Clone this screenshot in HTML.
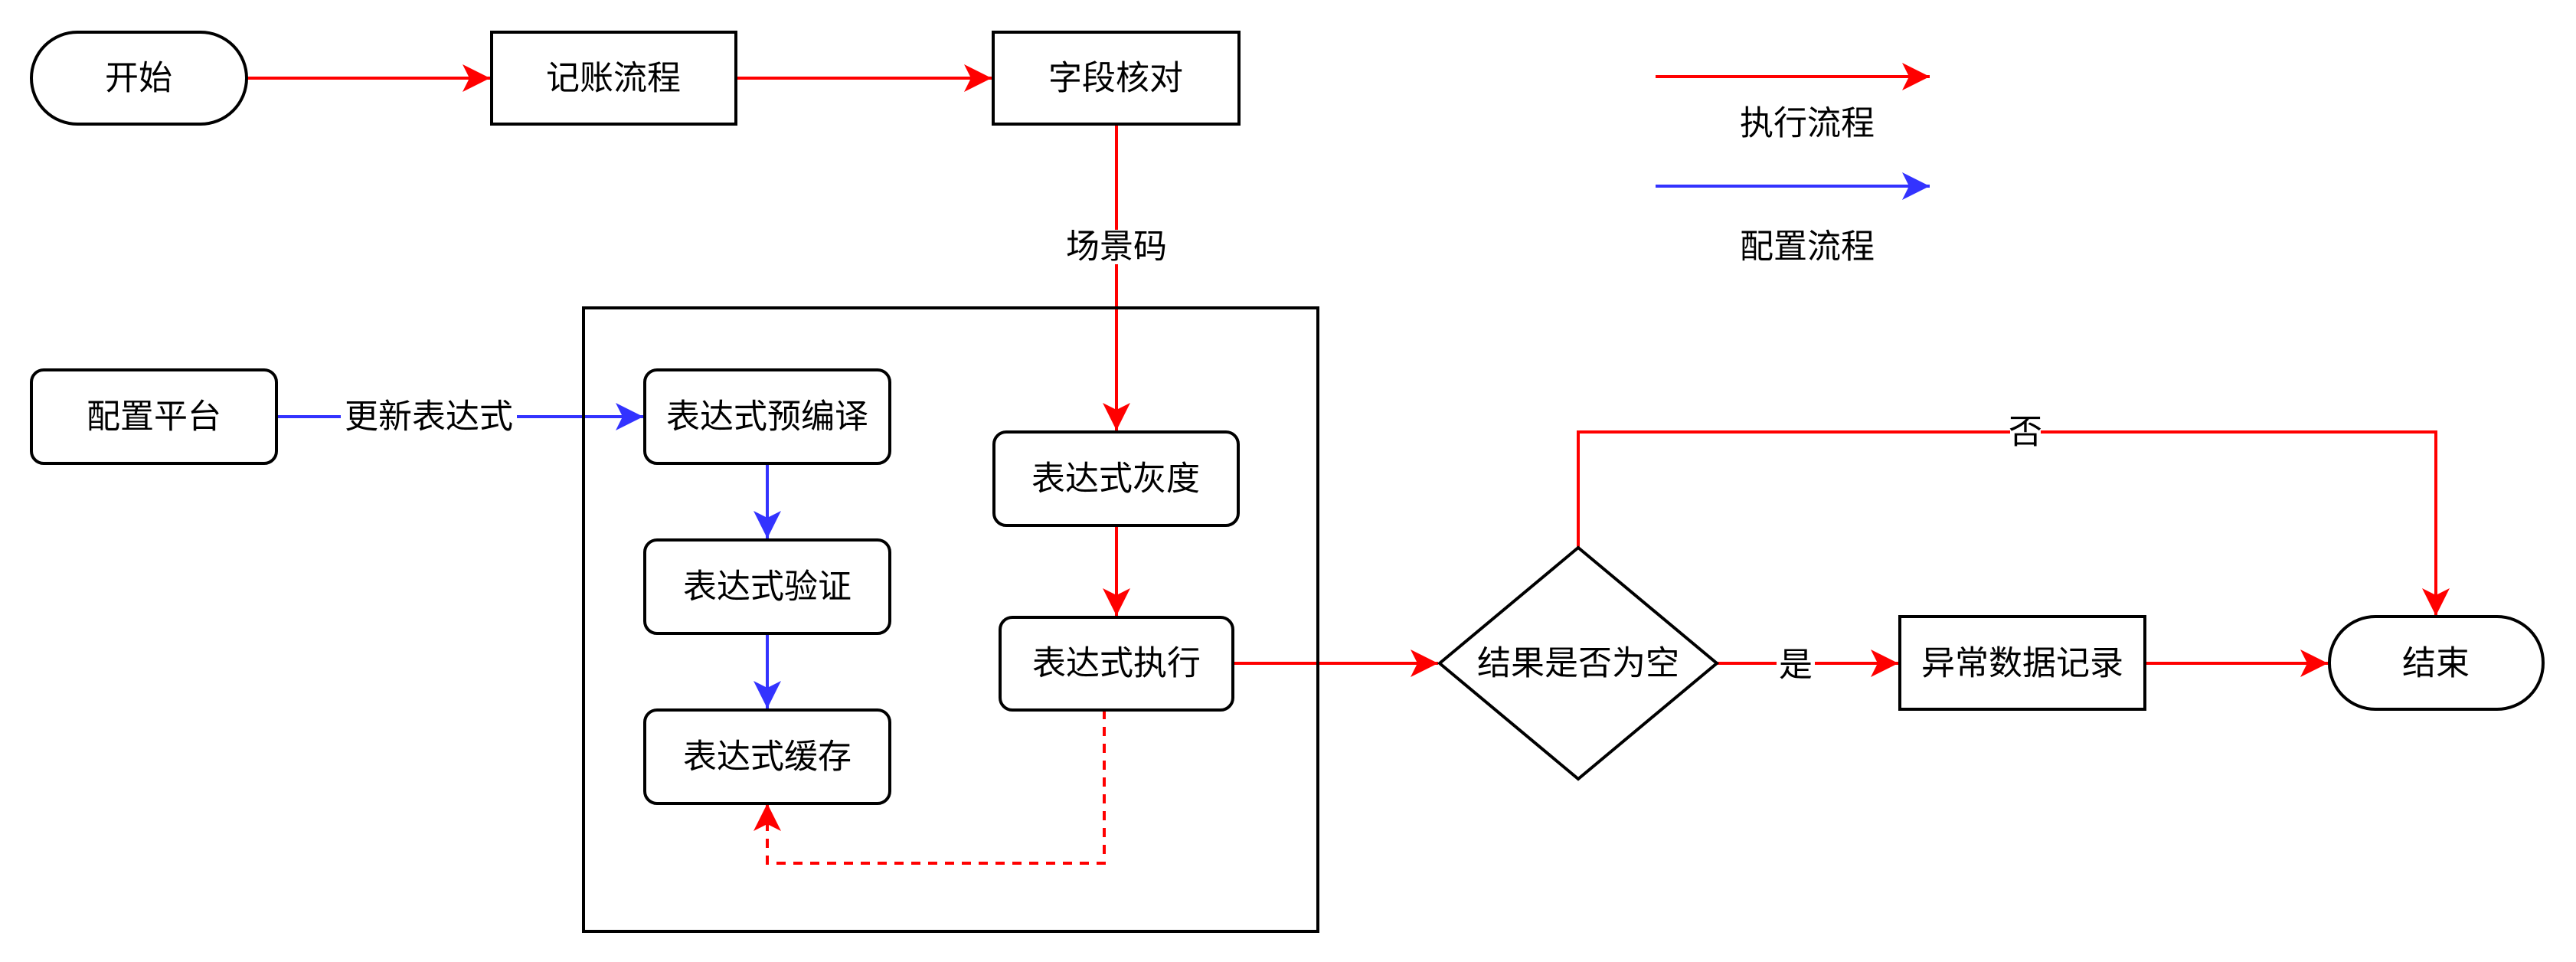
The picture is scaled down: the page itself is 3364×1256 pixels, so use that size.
<!DOCTYPE html>
<html><head><meta charset="utf-8"><style>
html,body{margin:0;padding:0;background:#fff;}
svg{display:block;}
text{font-family:"Liberation Sans","Noto Sans CJK SC",sans-serif;font-size:44px;fill:#000;text-anchor:middle;dominant-baseline:central;}
</style></head><body>
<svg width="3364" height="1256" viewBox="0 0 3364 1256" xmlns="http://www.w3.org/2000/svg">
<defs>
<marker id="ar" markerUnits="userSpaceOnUse" markerWidth="40" markerHeight="40" refX="36" refY="18" orient="auto"><path d="M0,0 L36,18 L0,36 L9,18 Z" fill="#ff0000"/></marker>
<marker id="ab" markerUnits="userSpaceOnUse" markerWidth="40" markerHeight="40" refX="36" refY="18" orient="auto"><path d="M0,0 L36,18 L0,36 L9,18 Z" fill="#3333ff"/></marker>
</defs>
<g fill="none" stroke-width="4">
<!-- red flow -->
<line x1="322" y1="102" x2="640" y2="102" stroke="#f00" marker-end="url(#ar)"/>
<line x1="961" y1="102" x2="1295" y2="102" stroke="#f00" marker-end="url(#ar)"/>
<line x1="1458" y1="163" x2="1458" y2="300" stroke="#f00"/>
<line x1="1458" y1="345" x2="1458" y2="562" stroke="#f00" marker-end="url(#ar)"/>
<line x1="1458" y1="686" x2="1458" y2="804" stroke="#f00" marker-end="url(#ar)"/>
<line x1="1610" y1="866" x2="1878" y2="866" stroke="#f00" marker-end="url(#ar)"/>
<line x1="2242" y1="866" x2="2320" y2="866" stroke="#f00"/>
<line x1="2370" y1="866" x2="2479" y2="866" stroke="#f00" marker-end="url(#ar)"/>
<line x1="2801" y1="866" x2="3040" y2="866" stroke="#f00" marker-end="url(#ar)"/>
<polyline points="2061,715 2061,564 3181,564 3181,804" stroke="#f00" marker-end="url(#ar)"/>
<polyline points="1442,927 1442,1127 1002,1127 1002,1049" stroke="#f00" stroke-dasharray="12,10" marker-end="url(#ar)"/>
<!-- blue flow -->
<line x1="361" y1="544" x2="840" y2="544" stroke="#33f" marker-end="url(#ab)"/>
<line x1="1002" y1="605" x2="1002" y2="703" stroke="#33f" marker-end="url(#ab)"/>
<line x1="1002" y1="827" x2="1002" y2="925" stroke="#33f" marker-end="url(#ab)"/>
<!-- legend -->
<line x1="2162" y1="100" x2="2520" y2="100" stroke="#f00" marker-end="url(#ar)"/>
<line x1="2162" y1="243" x2="2520" y2="243" stroke="#33f" marker-end="url(#ab)"/>
<!-- shapes -->
<g stroke="#000">
<rect x="762" y="402" width="959" height="814"/>
<rect x="41" y="42" width="281" height="120" rx="60" fill="#fff"/>
<rect x="642" y="42" width="319" height="120" fill="#fff"/>
<rect x="1297" y="42" width="321" height="120" fill="#fff"/>
<rect x="41" y="483" width="320" height="122" rx="16" fill="#fff"/>
<rect x="842" y="483" width="320" height="122" rx="16" fill="#fff"/>
<rect x="842" y="705" width="320" height="122" rx="16" fill="#fff"/>
<rect x="842" y="927" width="320" height="122" rx="16" fill="#fff"/>
<rect x="1298" y="564" width="319" height="122" rx="16" fill="#fff"/>
<rect x="1306" y="806" width="304" height="121" rx="16" fill="#fff"/>
<polygon points="2061,715 2242,866 2061,1017 1880,866" fill="#fff"/>
<rect x="2481" y="805" width="320" height="121" fill="#fff"/>
<rect x="3042" y="805" width="279" height="121" rx="60" fill="#fff"/>
</g>
</g>
<!-- label backgrounds -->
<rect x="445" y="520" width="230" height="48" fill="#fff"/>
<rect x="2625" y="540" width="40" height="48" fill="#fff"/>
<rect x="2322" y="842" width="46" height="48" fill="#fff"/>
<text x="181" y="102">开始</text>
<text x="801" y="102">记账流程</text>
<text x="1457" y="102">字段核对</text>
<text x="1458" y="322">场景码</text>
<text x="2360" y="161">执行流程</text>
<text x="2360" y="322">配置流程</text>
<text x="201" y="544">配置平台</text>
<text x="560" y="544">更新表达式</text>
<text x="1002" y="544">表达式预编译</text>
<text x="1002" y="766">表达式验证</text>
<text x="1002" y="988">表达式缓存</text>
<text x="1457" y="625">表达式灰度</text>
<text x="1458" y="866">表达式执行</text>
<text x="2061" y="866">结果是否为空</text>
<text x="2345" y="868">是</text>
<text x="2645" y="564">否</text>
<text x="2641" y="866">异常数据记录</text>
<text x="3181" y="866">结束</text>
</svg>
</body></html>
